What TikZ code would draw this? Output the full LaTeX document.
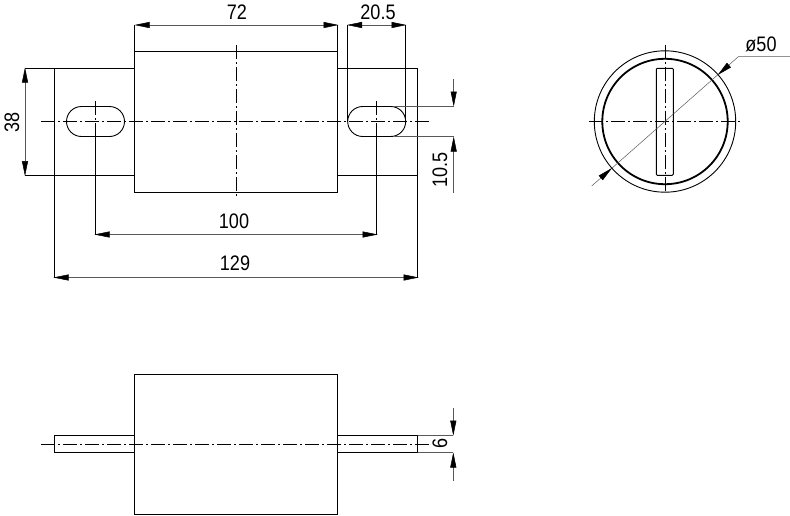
\documentclass[tikz,border=0pt]{standalone}
\usepackage{fontspec}
\setmainfont[FakeStretch=0.86]{Liberation Sans}
\usetikzlibrary{arrows.meta}
\tikzset{
	outline/.style={line width=0.9pt},
	heavy/.style={line width=1.8pt},
	axisline/.style={line width=0.7pt, dash pattern=on 14pt off 3pt on 2pt off 3pt},
	extline/.style={line width=0.8pt},
	thinline/.style={line width=0.5pt, color=black!65},
	dimline/.style={thinline, {Triangle[length=15pt,width=6pt,black]}-{Triangle[length=15pt,width=6pt,black]}},
	tipline/.style={thinline, -{Triangle[length=15pt,width=6pt,black]}},
	dimlabel/.style={font=\fontsize{21}{21}\selectfont, inner sep=0pt}
}

\begin{document}
\begin{tikzpicture}[x=1pt, y=-1pt]
			\useasboundingbox (0, 0) rectangle (790, 515);
			%%%%% TOP VIEW %%%%%
			
			\draw[outline] (134.5, 51.5) rectangle (337.5, 192);
			\draw[outline] (134.5, 68.5) -- (54.5, 68.5) -- (54.5, 175) -- (134.5, 175);
			\draw[outline] (337.5, 68.5) -- (417.7, 68.5) -- (417.7, 175) -- (337.5, 175);
			
			\draw[outline, rounded corners=15pt] (66.5, 106.5) rectangle (124.5, 136.5);
			\draw[outline, rounded corners=15pt] (347.7, 106.5) rectangle (405.7, 136.5);
			
			\draw[axisline] (41, 121.5) -- (431, 121.5);
			\draw[axisline] (236, 45) -- (236, 198);
			\draw[axisline] (95.5, 101) -- (95.5, 136.5);
			\draw[axisline] (376.7, 101) -- (376.7, 136.5);
			
			% 72
			\draw[extline] (134.5, 25) -- (134.5, 51.5);
			\draw[extline] (337.5, 25) -- (337.5, 51.5);
			\draw[dimline] (134.5, 25) -- (338.5, 25);
			\node[dimlabel] (width72) at (237, 12) {72};
			
			% 20.5
			\draw[extline] (347.7, 25) -- (347.7, 121.5);
			\draw[extline] (405.7, 25) -- (405.7, 121.5);
			\draw[dimline] (347, 25) -- (406.5, 25);
			\node[dimlabel] (width205) at (378, 12) {20.5};
			
			% 38
			\draw[extline] (25, 68.5) -- (54.5, 68.5);
			\draw[extline] (25, 175) -- (54.5, 175);
			\draw[dimline] (25, 67.5) -- (25, 176);
			\node[dimlabel, rotate=90] (height38) at (12, 122.5) {38};
			
			% 100
			\draw[extline] (95.5, 136.5) -- (95.5, 234.5);
			\draw[extline] (376.7, 136.5) -- (376.7, 234.5);
			\draw[dimline] (94.5, 234.5) -- (377.7, 234.5);
			\node[dimlabel] (pitch100) at (234, 221) {100};
			
			% 129
			\draw[extline] (54.5, 175) -- (54.5, 277.5);
			\draw[extline] (417.7, 175) -- (417.7, 277.5);
			\draw[dimline] (53.5, 277.5) -- (418.7, 277.5);
			\node[dimlabel] (length129) at (235, 263) {129};
			
			% 10.5
			\draw[thinline] (393, 106.5) -- (453.7, 106.5);
			\draw[thinline] (393, 136.5) -- (453.7, 136.5);
			\draw[tipline] (453.7, 79) -- (453.7, 106.5);
			\draw[tipline] (453.7, 193) -- (453.7, 136.5);
			\node[dimlabel, rotate=90] (slot105) at (440, 170) {10.5};
			
			%%%%% SIDE VIEW %%%%%
			
			\draw[outline] (665, 121.5) circle (70.7);
			\draw[heavy] (665, 121.5) circle (62.7);
			\draw[outline, rounded corners=1pt] (656.3, 68.3) rectangle (673.3, 175.3);
			\draw[axisline] (589, 121.5) -- (742, 121.5);
			\draw[axisline] (665, 45) -- (665, 194);
			
			% 50
			\draw[thinline] (591.7, 186) -- (738.3, 56.7) -- (790, 56.7);
			\draw[{Triangle[length=15pt,width=6pt]}-, line width=0.5pt] (717.7, 75) -- (729, 65);
			\draw[{Triangle[length=15pt,width=6pt]}-, line width=0.5pt] (612, 168) -- (600.7, 178);
			\node[dimlabel] (dia50) at (761, 44) {ø50};
			
			%%%%% FRONT VIEW %%%%%
			
			\draw[outline] (134.5, 374) rectangle (337.5, 514);
			\draw[outline] (54.5, 435.7) rectangle (134.5, 452.5);
			\draw[outline] (337.5, 435.7) rectangle (417.7, 452.5);
			\draw[axisline] (41, 444) -- (431, 444);
			
			% 6
			\draw[thinline] (417.7, 435.7) -- (453.3, 435.7);
			\draw[thinline] (417.7, 452.5) -- (453.3, 452.5);
			\draw[tipline] (453.3, 408) -- (453.3, 435.7);
			\draw[tipline] (453.3, 481) -- (453.3, 452.5);
			\node[dimlabel, rotate=90] (thick6) at (440, 443) {6};
			
			%%%%% END %%%%%
\end{tikzpicture}
\end{document}
